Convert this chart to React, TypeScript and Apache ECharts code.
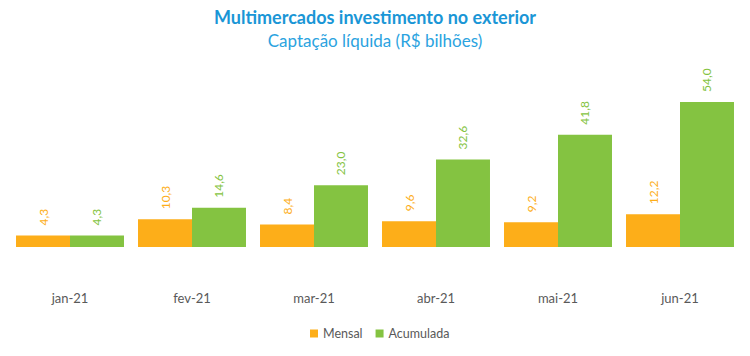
import React, { useEffect, useRef } from "react";
import * as echarts from "echarts";

const categories = ["jan-21", "fev-21", "mar-21", "abr-21", "mai-21", "jun-21"];
const mensal = [4.3, 10.3, 8.4, 9.6, 9.2, 12.2];
const acumulada = [4.3, 14.6, 23.0, 32.6, 41.8, 54.0];

const ORANGE = "#FDAE19";
const GREEN = "#84C341";
const FONT = "Lato, 'Open Sans', sans-serif";

const fmt = (p: any) => Number(p.value).toFixed(1).replace(".", ",");

export default function App() {
  const ref = useRef<HTMLDivElement>(null);
  useEffect(() => {
    document.body.style.margin = "0";
    if (!ref.current) return;
    const chart = echarts.init(ref.current, undefined, { renderer: "svg" });
    const label = (color: string) => ({
      show: true,
      position: "top",
      distance: 10,
      rotate: 90,
      align: "left",
      verticalAlign: "middle",
      color,
      fontSize: 12,
      fontFamily: FONT,
      formatter: fmt,
    });
    chart.setOption({
      animation: false,
      backgroundColor: "#ffffff",
      title: [
        {
          text: "Multimercados investimento no exterior",
          left: "center",
          top: 3,
          textStyle: { color: "#1A96D6", fontSize: 18, fontWeight: "bold", fontFamily: FONT },
        },
        {
          text: "Captação líquida (R$ bilhões)",
          left: "center",
          top: 27,
          textStyle: { color: "#2BA3E0", fontSize: 17, fontWeight: "normal", fontFamily: FONT },
        },
      ],
      legend: {
        bottom: 11,
        left: 305,
        itemWidth: 8,
        itemHeight: 8,
        itemGap: 13,
        icon: "rect",
        textStyle: { color: "#595959", fontSize: 12.5, fontFamily: FONT },
        data: ["Mensal", "Acumulada"],
      },
      grid: { left: 9, right: 9, top: 67, height: 180, containLabel: false },
      xAxis: {
        type: "category",
        data: categories,
        axisLine: { show: false },
        axisTick: { show: false },
        axisLabel: { color: "#595959", fontSize: 13, fontFamily: FONT, margin: 44 },
      },
      yAxis: {
        type: "value",
        min: 0,
        max: 67,
        show: false,
        splitLine: { show: false },
      },
      series: [
        {
          name: "Mensal",
          type: "bar",
          data: mensal,
          itemStyle: { color: ORANGE },
          barGap: "0%",
          barCategoryGap: "11.5%",
          label: label(ORANGE),
        },
        {
          name: "Acumulada",
          type: "bar",
          data: acumulada,
          itemStyle: { color: GREEN },
          barGap: "0%",
          barCategoryGap: "11.5%",
          label: label(GREEN),
        },
      ],
    });
    return () => chart.dispose();
  }, []);
  return <div ref={ref} style={{ width: 750, height: 356 }} />;
}
